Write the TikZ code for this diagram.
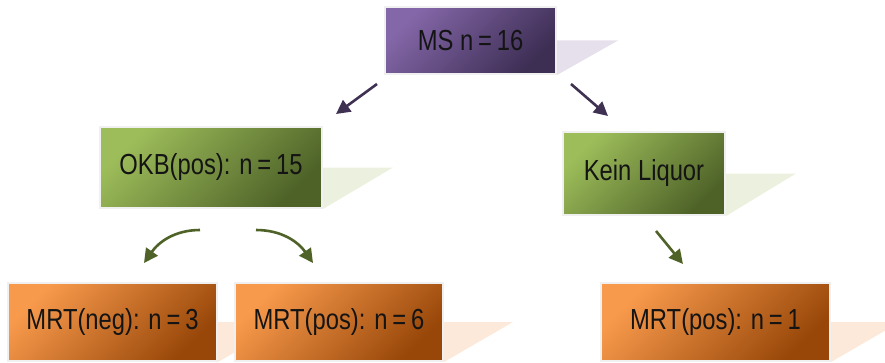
\documentclass[tikz,border=0pt]{standalone}
\usepackage{fontspec}
\setmainfont{Liberation Sans}[FakeStretch=0.82]
\usetikzlibrary{arrows.meta,backgrounds}

\definecolor{msA}{HTML}{8467A8}
\definecolor{msB}{HTML}{3D2E54}
\definecolor{msS}{HTML}{E5E0EC}
\definecolor{msL}{HTML}{3F3151}
\definecolor{okA}{HTML}{9DBD5A}
\definecolor{okB}{HTML}{4E6228}
\definecolor{okS}{HTML}{EBF1DE}
\definecolor{okL}{HTML}{4F6228}
\definecolor{mrA}{HTML}{F89A4C}
\definecolor{mrB}{HTML}{984709}
\definecolor{mrS}{HTML}{FDE9D9}

\tikzset{
  box/.style={draw=black!6, line width=2pt, inner sep=0pt, text=black!92,
    font=\fontsize{29}{34}\selectfont},
  msbox/.style={box, left color=msA, right color=msB, shading angle=45},
  okbox/.style={box, left color=okA, right color=okB, shading angle=45},
  mrbox/.style={box, left color=mrA, right color=mrB, shading angle=45},
  link/.style={line width=2.6pt, -{Triangle[length=14pt,width=14pt]}},
}

\begin{document}
\begin{tikzpicture}[x=1pt,y=1pt]
    \useasboundingbox (0,0) rectangle (885,362);

    % boxes
    \node[msbox, minimum width=171, minimum height=67] (ms) at (470.5,321.5) {MS n\,=\,16};
    \node[okbox, minimum width=222, minimum height=81] (okb) at (211,194.5) {OKB(pos): n\,=\,15};
    \node[okbox, minimum width=162, minimum height=83] (kein) at (644,188.5) {Kein Liquor};
    \node[mrbox, minimum width=209, minimum height=78] (neg) at (112.5,40) {MRT(neg): n\,=\,3};
    \node[mrbox, minimum width=208, minimum height=78] (pos) at (339,40) {MRT(pos): n\,=\,6};
    \node[mrbox, minimum width=229, minimum height=78] (pose) at (715.5,40) {MRT(pos): n\,=\,1};

    % shadows
    \begin{scope}[on background layer]
    \fill[msS] (ms.east) -- ++(61,0) -- (ms.south east) -- cycle;
    \fill[okS] (okb.east) -- ++(70,0) -- (okb.south east) -- cycle;
    \fill[okS] (kein.east) -- ++(70,0) -- (kein.south east) -- cycle;
    \fill[mrS] (neg.east) -- ++(69,0) -- (neg.south east) -- cycle;
    \fill[mrS] (pos.east) -- ++(69,0) -- (pos.south east) -- cycle;
    \fill[mrS] (pose.east) -- ++(69,0) -- (pose.south east) -- cycle;
    \end{scope}

    % arrows
    \draw[link, msL] ([shift={(-7,-9)}]ms.south west) -- ([shift={(13,12)}]okb.north east);
    \draw[link, msL] ([shift={(14,-9)}]ms.south east) -- ([shift={(46,15)}]kein.north west);
    \draw[link, okL] ([shift={(-11,-21)}]okb.south) to[out=180, in=55] ([shift={(31.5,19)}]neg.north);
    \draw[link, okL] ([shift={(45,-21)}]okb.south) to[out=0, in=125] ([shift={(-26,19)}]pos.north);
    \draw[link, okL] ([shift={(12,-15)}]kein.south) -- ([shift={(-32.5,18)}]pose.north);
\end{tikzpicture}
\end{document}
